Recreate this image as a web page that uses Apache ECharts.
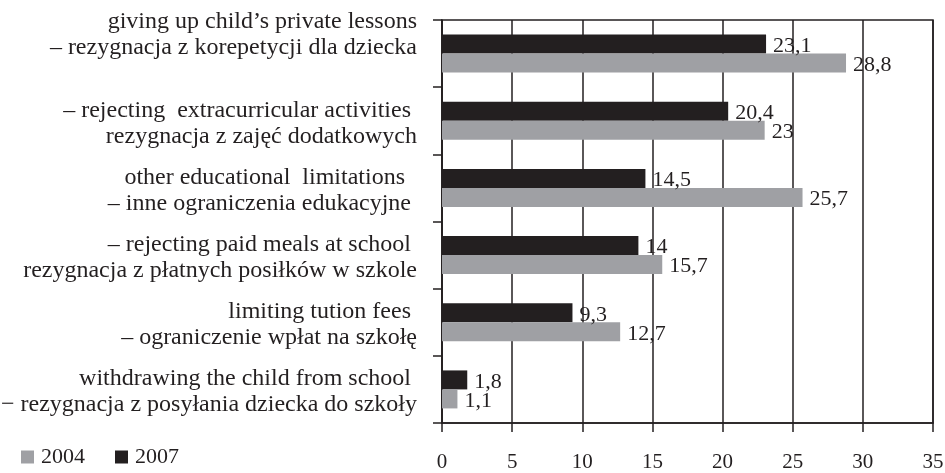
<!DOCTYPE html>
<html><head><meta charset="utf-8">
<script src="https://cdn.jsdelivr.net/npm/echarts@6/dist/echarts.min.js"></script>
<style>html,body{margin:0;padding:0;background:#fff}#c{width:945px;height:473px}</style>
</head><body><div id="c"></div>
<script>
// categories listed top to bottom as in the picture
var categories = [
  "giving up child\u2019s private lessons\n\u2013 rezygnacja z korepetycji dla dziecka",
  "\u2013 rejecting  extracurricular activities \nrezygnacja z zaj\u0119\u0107 dodatkowych",
  "other educational  limitations  \n\u2013 inne ograniczenia edukacyjne ",
  "\u2013 rejecting paid meals at school \nrezygnacja z p\u0142atnych posi\u0142k\u00f3w w szkole",
  "limiting tution fees \n\u2013 ograniczenie wp\u0142at na szko\u0142\u0119",
  "withdrawing the child from school \n\u2212 rezygnacja z posy\u0142ania dziecka do szko\u0142y"
];
var values2004 = [28.8, 23, 25.7, 15.7, 12.7, 1.1];
var values2007 = [23.1, 20.4, 14.5, 14, 9.3, 1.8];
var xTicks = [0, 5, 10, 15, 20, 25, 30, 35];

var INK = '#231f20', GRAY = '#9fa0a4';
var FONT = '"Liberation Serif", "Times New Roman", serif';

var cats = categories.slice().reverse();
var topIdx = cats.length - 1;
var d04 = values2004.slice().reverse();
var d07 = values2007.slice().reverse();

function fmt(p) { return String(p.value).replace('.', ','); }

var chart = echarts.init(document.getElementById('c'), null, { renderer: 'canvas' });
chart.setOption({
  backgroundColor: '#fff',
  animation: false,
  textStyle: { fontFamily: FONT },
  grid: { left: 442, right: 12, top: 20, bottom: 50, containLabel: false, outerBoundsMode: 'none',
    show: true, borderColor: INK, borderWidth: 1.5, backgroundColor: 'transparent' },
  legend: {
    left: 16, bottom: 0, orient: 'horizontal', itemWidth: 13, itemHeight: 13, itemGap: 30,
    icon: 'rect',
    textStyle: { fontFamily: FONT, fontSize: 22, color: INK, padding: [0, 0, 0, 2] },
    data: ['2004', '2007']
  },
  xAxis: {
    type: 'value', min: 0, max: 35, interval: 5,
    axisLine: { show: true, lineStyle: { color: INK, width: 1.5 } },
    axisTick: { show: true, length: 9, lineStyle: { color: INK, width: 1.5 } },
    axisLabel: { fontFamily: FONT, fontSize: 21, color: INK, margin: 29,
      formatter: function (v) { return xTicks.indexOf(v) >= 0 ? String(v) : ''; } },
    splitLine: { show: true, lineStyle: { color: INK, width: 1.5 } }
  },
  yAxis: {
    type: 'category', data: cats,
    axisLine: { show: true, lineStyle: { color: INK, width: 1.5 } },
    axisTick: { show: true, length: 9, lineStyle: { color: INK, width: 1.5 } },
    axisLabel: {
      interval: 0, hideOverlap: false,
      fontFamily: FONT, fontSize: 24, color: INK, margin: 25, lineHeight: 26, align: 'right',
      padding: [5, 0, 0, 0],
      formatter: function (v, i) {
        var t = '{up|' + v.split('\n').join('}\n{up|') + '}';
        if (i === topIdx) t += '\n{sp| }';
        return t;
      },
      rich: {
        up: { fontFamily: FONT, fontSize: 24, color: INK, lineHeight: 26, align: 'right' },
        sp: { fontSize: 2, lineHeight: 42, align: 'right' }
      }
    },
    splitLine: { show: false }
  },
  series: [
    { name: '2007', type: 'bar', data: d07, barWidth: 19, barGap: '0%', itemStyle: { color: INK },
      label: { show: true, position: 'right', distance: 7, offset: [0, 2], formatter: fmt, fontFamily: FONT, fontSize: 22, color: INK }, z: 3 },
    { name: '2004', type: 'bar', data: d04, barWidth: 19, barGap: '0%', itemStyle: { color: GRAY },
      label: { show: true, position: 'right', distance: 7, offset: [0, 2], formatter: fmt, fontFamily: FONT, fontSize: 22, color: INK }, z: 3 }
  ]
});
</script></body></html>
